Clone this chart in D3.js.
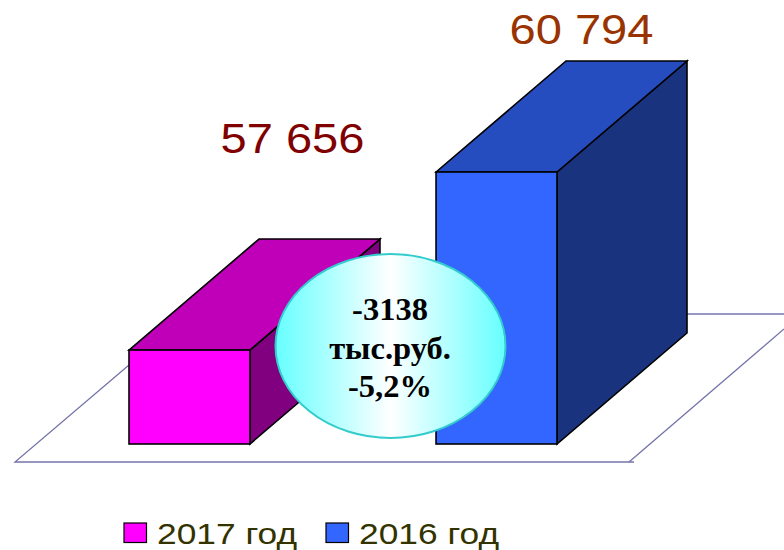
<!DOCTYPE html>
<html><head><meta charset="utf-8">
<script src="https://cdn.jsdelivr.net/npm/d3@7/dist/d3.min.js"></script>
<style>html,body{margin:0;padding:0;background:#fff}svg{display:block}</style></head>
<body><svg id="c" width="784" height="550"></svg>
<script>
const categories = ["2017 год", "2016 год"];
const values = [57656, 60794];
const valueLabels = ["57 656", "60 794"];
const calloutLines = ["-3138", "тыс.руб.", "-5,2%"];
const frontColors = ["#ff00ff", "#3366ff"];
const topColors = ["#bf00b8", "#264dbf"];
const sideColors = ["#800080", "#1a337f"];
const labelColors = ["#800000", "#993300"];

const svg = d3.select("#c");
const x = d3.scaleBand().domain(categories).range([129, 557]).paddingInner(0.606).paddingOuter(0);
const y = d3.scaleLinear().domain([56000, 60794]).range([444, 172]);
const depthX = 130, depthY = 111;
const base = y.domain()[0];
const labelDx = [103, 85], labelDy = [86, 17];

const defs = svg.append("defs");
const grad = defs.append("linearGradient").attr("id", "g").attr("x1", 0).attr("x2", 1).attr("y1", 0).attr("y2", 0);
[[0, "#66ffff"], [0.5, "#ffffff"], [1, "#66ffff"]].forEach(s => grad.append("stop").attr("offset", s[0]).attr("stop-color", s[1]));

// floor
const floor = svg.append("g").attr("fill", "none").attr("stroke", "#7474aa").attr("stroke-width", 1.3);
const line = d3.line();
floor.append("path").attr("d", line([[129, 365], [15, 462], [634, 462]]));
floor.append("path").attr("d", line([[629, 462], [784, 329]]));
floor.append("path").attr("d", line([[560, 314], [784, 314]]));

// bars
const bars = svg.selectAll("g.bar").data(categories).join("g").attr("class", "bar")
  .attr("stroke", "#000").attr("stroke-width", 1.6).attr("stroke-linejoin", "miter");
bars.each(function (c, i) {
  const g = d3.select(this);
  const l = x(c), r = l + x.bandwidth(), t = y(values[i]), b = y(base);
  g.append("path").attr("fill", sideColors[i]).attr("d", line([[r, t], [r + depthX, t - depthY], [r + depthX, b - depthY], [r, b]]) + "Z");
  g.append("path").attr("fill", topColors[i]).attr("d", line([[l, t], [l + depthX, t - depthY], [r + depthX, t - depthY], [r, t]]) + "Z");
  g.append("rect").attr("fill", frontColors[i]).attr("x", l).attr("y", t).attr("width", x.bandwidth()).attr("height", b - t);
  svg.append("text").attr("x", l + x.bandwidth() / 2 + labelDx[i]).attr("y", t - depthY - labelDy[i])
    .attr("text-anchor", "middle").attr("font-family", "Liberation Sans").attr("font-size", 42)
    .attr("textLength", 144).attr("lengthAdjust", "spacingAndGlyphs")
    .attr("fill", labelColors[i]).text(valueLabels[i]);
});

// callout
svg.append("ellipse").attr("cx", 390.5).attr("cy", 346).attr("rx", 115).attr("ry", 92)
  .attr("fill", "url(#g)").attr("stroke", "#33cccc").attr("stroke-width", 2);
svg.selectAll("text.call").data(calloutLines).join("text").attr("class", "call")
  .attr("x", 390).attr("y", (d, i) => 320 + i * 38.5)
  .attr("text-anchor", "middle").attr("font-family", "Liberation Serif").attr("font-weight", "bold")
  .attr("font-size", 32.5).attr("fill", "#000").text(d => d);

// legend
const legendX = [124, 326];
categories.forEach((c, i) => {
  svg.append("rect").attr("x", legendX[i]).attr("y", 523).attr("width", 22.5).attr("height", 19.5)
    .attr("fill", frontColors[i]).attr("stroke", "#000").attr("stroke-width", 1.2);
  svg.append("text").attr("x", legendX[i] + 33).attr("y", 544).attr("font-family", "Liberation Sans")
    .attr("font-size", 30).attr("textLength", 140).attr("lengthAdjust", "spacingAndGlyphs")
    .attr("fill", "#333300").text(c);
});
</script></body></html>
